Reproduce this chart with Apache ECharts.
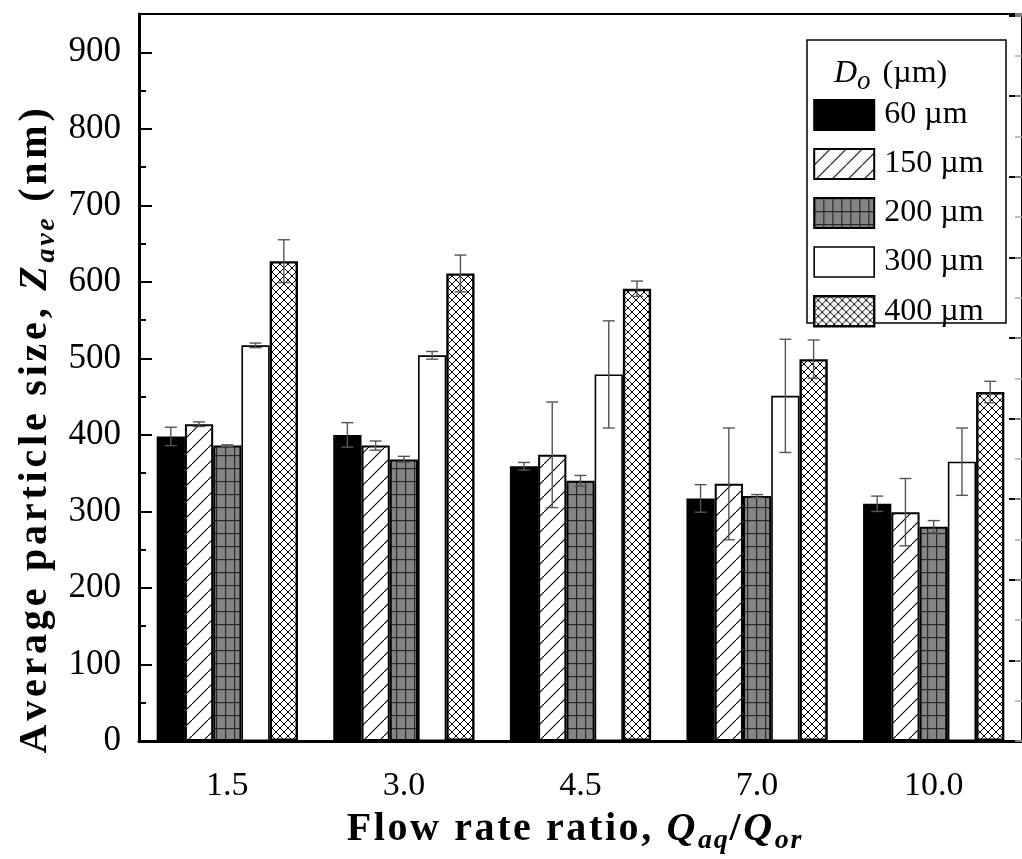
<!DOCTYPE html>
<html>
<head>
<meta charset="utf-8">
<script src="https://cdn.jsdelivr.net/npm/echarts@6/dist/echarts.min.js"></script>
<style>
html,body{margin:0;padding:0;background:#fff;}
#chart{width:1022px;height:859px;}
</style>
</head>
<body>
<div id="chart"></div>
<script>
// ---- data ----
const categories = ['1.5', '3.0', '4.5', '7.0', '10.0'];
const seriesNames = ['60 µm', '150 µm', '200 µm', '300 µm', '400 µm'];
const size60  = [398, 400, 359, 317, 310];
const size150 = [414, 386, 374, 336, 299];
const size200 = [386, 368, 340, 320, 280];
const size300 = [517, 504, 479, 451, 365];
const size400 = [627, 611, 591, 499, 456];
const err60  = [12, 16, 5, 18, 10];
const err150 = [3, 6, 69, 73, 44];
const err200 = [1, 4, 7, 2, 8];
const err300 = [3, 5, 70, 74, 44];
const err400 = [28, 24, 10, 25, 14];
const yTicks = [0, 100, 200, 300, 400, 500, 600, 700, 800, 900];
const xTitle = ['Flow rate ratio, ', 'Q', 'aq', '/', 'Q', 'or'];
const yTitle = ['Average particle size, ', 'Z', 'ave', ' (nm)'];
const legendTitle = ['D', 'o', ' (µm)'];

const values = [size60, size150, size200, size300, size400];
const errors = [err60, err150, err200, err300, err400];

// ---- patterns ----
function makeCanvas(w, h) { const c = document.createElement('canvas'); c.width = w; c.height = h; return c; }
function hatch() {
  const c = makeCanvas(16, 16), g = c.getContext('2d');
  g.fillStyle = '#fff'; g.fillRect(0, 0, 16, 16);
  g.strokeStyle = '#000'; g.lineWidth = 1.1;
  g.beginPath(); g.moveTo(-2, 18); g.lineTo(18, -2); g.stroke();
  return c;
}
function gridPat() {
  const c = makeCanvas(9, 13), g = c.getContext('2d');
  g.fillStyle = '#858585'; g.fillRect(0, 0, 9, 13);
  g.fillStyle = '#2a2a2a';
  g.fillRect(0, 0, 9, 1.2); g.fillRect(0, 0, 1.2, 13);
  return c;
}
function cross() {
  const c = makeCanvas(8, 8), g = c.getContext('2d');
  g.fillStyle = '#fff'; g.fillRect(0, 0, 8, 8);
  g.strokeStyle = '#000'; g.lineWidth = 1;
  g.beginPath(); g.moveTo(-1, 9); g.lineTo(9, -1); g.moveTo(-1, -1); g.lineTo(9, 9); g.stroke();
  return c;
}
const fills = [
  '#000',
  { image: hatch(), repeat: 'repeat' },
  { image: gridPat(), repeat: 'repeat' },
  '#fff',
  { image: cross(), repeat: 'repeat' }
];
const borderWidths = [2, 2, 2, 1.6, 2.4];

const FONT = 'Liberation Serif';
const chart = echarts.init(document.getElementById('chart'), null, { renderer: 'canvas' });

// split a string into per-character rich tokens (gives letter spacing through padding)
function spaced(str, style) {
  return Array.from(str).map(ch => '{' + style + '|' + ch + '}').join('');
}

const barSeries = seriesNames.map((n, i) => ({
  name: n, type: 'bar', xAxisIndex: 0, yAxisIndex: 0,
  data: values[i],
  barGap: '0%', barCategoryGap: '20%',
  itemStyle: { color: fills[i], borderColor: '#000', borderWidth: borderWidths[i] },
  emphasis: { disabled: true }, z: 2
}));

const errData = [];
values.forEach((arr, si) => arr.forEach((v, ci) => errData.push([ci, v, errors[si][ci], si])));

const errSeries = {
  type: 'custom', xAxisIndex: 0, yAxisIndex: 0, z: 10,
  data: errData, encode: { x: 0, y: 1 },
  renderItem: function (params, api) {
    const cat = api.value(0), val = api.value(1), err = api.value(2), si = api.value(3);
    const band = api.size([1, 0])[0];
    const bw = band * 0.8 / 5;
    const cx = api.coord([cat, 0])[0] + (si - 2) * bw;
    const yt = api.coord([cat, val + err])[1];
    const yb = api.coord([cat, val - err])[1];
    const h = 6;
    const st = { stroke: '#555', lineWidth: 1.4 };
    return { type: 'group', children: [
      { type: 'line', shape: { x1: cx, y1: yt, x2: cx, y2: yb }, style: st },
      { type: 'line', shape: { x1: cx - h, y1: yt, x2: cx + h, y2: yt }, style: st },
      { type: 'line', shape: { x1: cx - h, y1: yb, x2: cx + h, y2: yb }, style: st }
    ]};
  }
};

const baseCat = {
  type: 'category', data: categories, position: 'bottom',
  axisLine: { show: false }, axisLabel: { show: false }, splitLine: { show: false }
};

function titleRich(sp) {
  return {
    b: { fontFamily: FONT, fontWeight: 'bold', fontSize: 40, lineHeight: 50, fill: '#000', padding: [0, sp, 0, 0] },
    q: { fontFamily: FONT, fontWeight: 'bold', fontStyle: 'italic', fontSize: 40, lineHeight: 50, fill: '#000', padding: [0, sp, 0, 0] },
    s: { fontFamily: FONT, fontWeight: 'bold', fontStyle: 'italic', fontSize: 28, lineHeight: 27, verticalAlign: 'bottom', fill: '#000', padding: [0, sp * 0.7, 0, 0] }
  };
}

const option = {
  animation: false,
  backgroundColor: '#fff',
  grid: { left: 139, top: 14, right: -6, bottom: 118, show: true, borderColor: '#000', borderWidth: 2, backgroundColor: 'transparent' },
  xAxis: [
    {
      type: 'category', data: categories, position: 'bottom',
      axisLine: { lineStyle: { color: '#000', width: 3 } },
      axisTick: { alignWithLabel: true, inside: true, length: 14, lineStyle: { color: '#000', width: 2 } },
      axisLabel: { color: '#000', fontSize: 34, fontFamily: FONT, margin: 28 },
      splitLine: { show: false }
    },
    Object.assign({}, baseCat, { axisTick: { alignWithLabel: true, inside: false, length: 12, lineStyle: { color: '#000', width: 2 } } }),
    Object.assign({}, baseCat, { axisTick: { inside: true, length: 7, lineStyle: { color: '#000', width: 2 } } }),
    Object.assign({}, baseCat, { axisTick: { inside: false, length: 6, lineStyle: { color: '#000', width: 2 } } })
  ],
  yAxis: [
    {
      type: 'value', position: 'left', min: 0, max: 950, interval: 100,
      axisLine: { show: true, lineStyle: { color: '#000', width: 3 } },
      axisTick: { show: true, inside: true, length: 13, lineStyle: { color: '#000', width: 2 } },
      axisLabel: { color: '#000', fontSize: 35, fontFamily: FONT, margin: 18, showMaxLabel: false,
        formatter: v => (yTicks.indexOf(v) >= 0 ? String(v) : '') },
      splitLine: { show: false }
    },
    {
      type: 'value', position: 'left', min: 0, max: 950, interval: 50,
      axisLine: { show: false }, axisLabel: { show: false }, splitLine: { show: false },
      axisTick: { show: true, inside: true, length: 7, lineStyle: { color: '#000', width: 2 } }
    },
    {
      type: 'value', position: 'right', min: 0, max: 9.02, interval: 1,
      axisLine: { show: true, lineStyle: { color: '#000', width: 3 } }, axisLabel: { show: false }, splitLine: { show: false },
      axisTick: { show: true, inside: true, length: 13, lineStyle: { color: '#000', width: 2 } }
    },
    {
      type: 'value', position: 'right', min: 0, max: 9.02, interval: 0.5,
      axisLine: { show: false }, axisLabel: { show: false }, splitLine: { show: false },
      axisTick: { show: true, inside: true, length: 7, lineStyle: { color: '#aaa', width: 1.5 } }
    }
  ],
  legend: {
    orient: 'vertical', left: 813, top: 99, z: 6,
    icon: 'rect', itemWidth: 60, itemHeight: 30, itemGap: 17, padding: 0,
    selectedMode: false,
    textStyle: { color: '#000', fontSize: 32, fontFamily: FONT, padding: [0, 0, 0, 5] },
    data: seriesNames.map((n, i) => ({ name: n, itemStyle: { borderColor: '#000', borderWidth: borderWidths[i] } }))
  },
  graphic: [
    { type: 'rect', z: 5, shape: { x: 807, y: 40, width: 199, height: 283 }, style: { fill: '#fff', stroke: '#000', lineWidth: 1.5 } },
    { type: 'text', z: 7, x: 834, y: 74,
      style: { text: '{i|' + legendTitle[0] + '}{s|' + legendTitle[1] + '}{n|' + legendTitle[2] + '}', align: 'left', verticalAlign: 'middle',
        rich: {
          i: { fontFamily: FONT, fontStyle: 'italic', fontSize: 32, lineHeight: 42, fill: '#000' },
          s: { fontFamily: FONT, fontStyle: 'italic', fontSize: 27, lineHeight: 22, verticalAlign: 'bottom', fill: '#000', padding: [0, 4, 0, 0] },
          n: { fontFamily: FONT, fontSize: 32, lineHeight: 42, fill: '#000' }
        } } },
    { type: 'text', z: 7, x: 575, y: 830,
      style: { text: spaced(xTitle[0], 'b') + spaced(xTitle[1], 'q') + spaced(xTitle[2], 's') + spaced(xTitle[3], 'b') + spaced(xTitle[4], 'q') + spaced(xTitle[5], 's'),
        align: 'center', verticalAlign: 'middle', rich: titleRich(2.6) } },
    { type: 'text', z: 7, x: 36, y: 429, rotation: Math.PI / 2,
      style: { text: spaced(yTitle[0], 'b') + spaced(yTitle[1], 'q') + spaced(yTitle[2], 's') + spaced(yTitle[3], 'b'),
        align: 'center', verticalAlign: 'middle', rich: titleRich(3.8) } }
  ],
  series: barSeries.concat([errSeries])
};
chart.setOption(option);
</script>
</body>
</html>
